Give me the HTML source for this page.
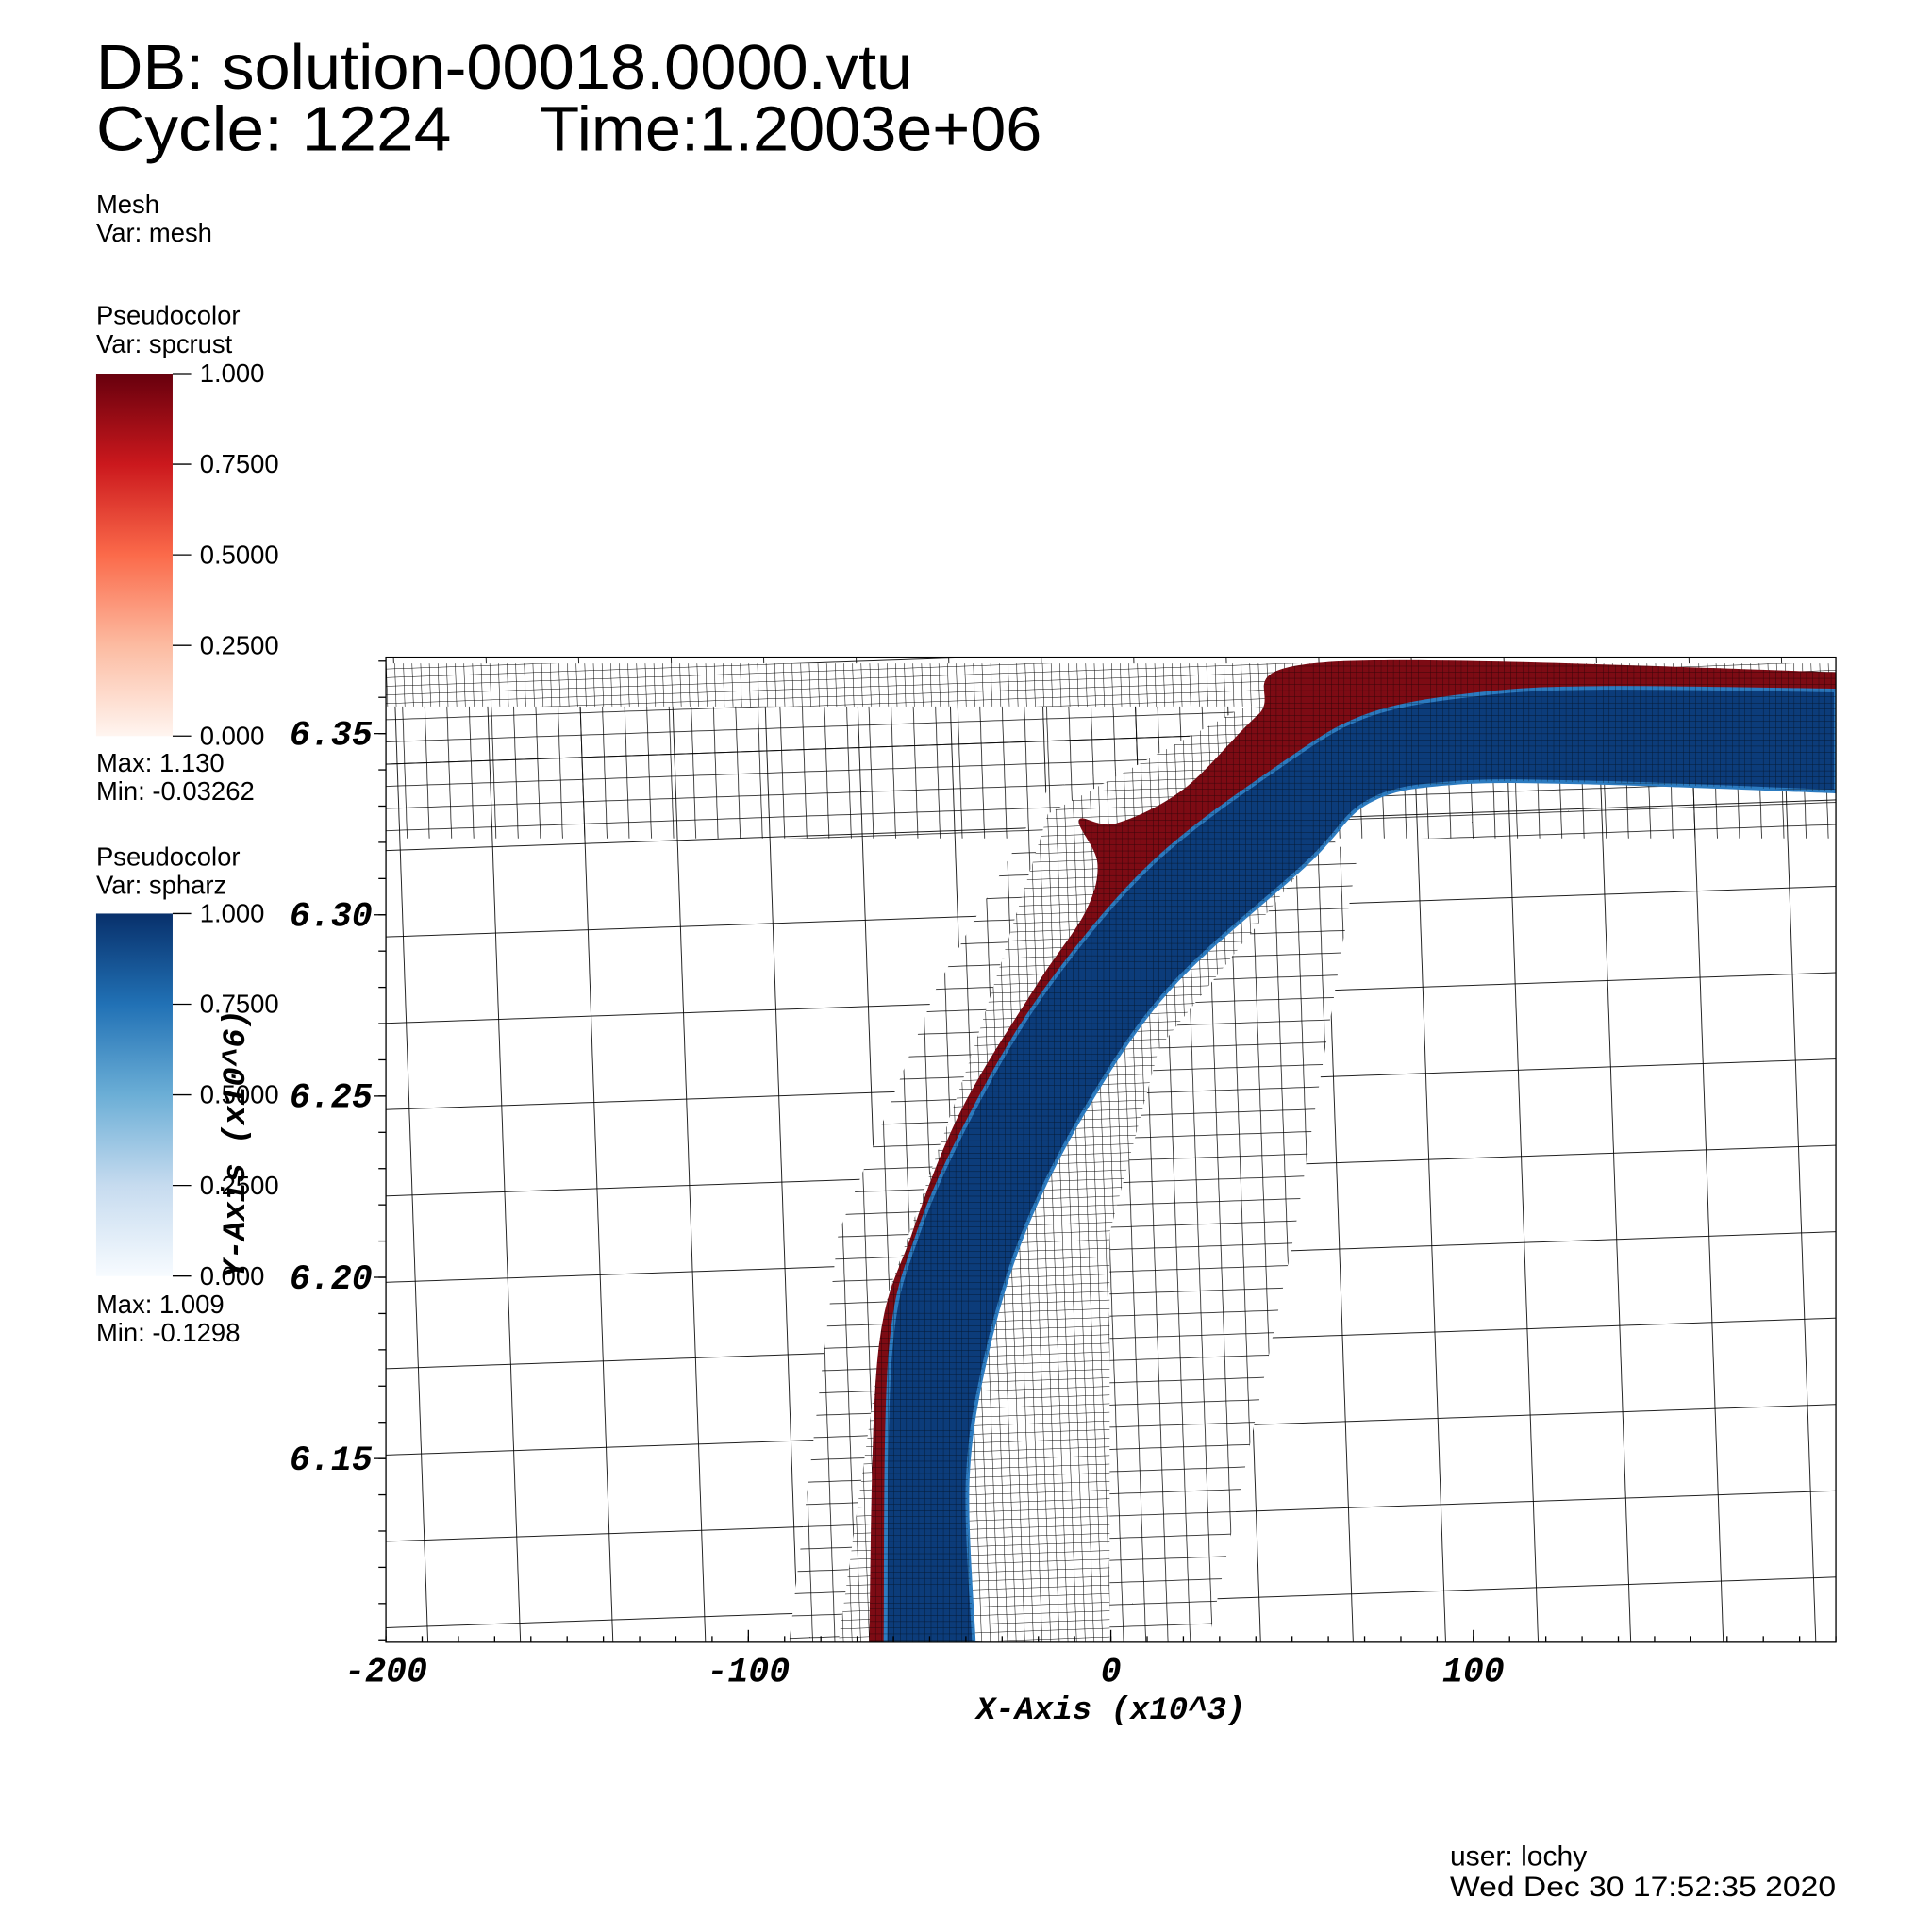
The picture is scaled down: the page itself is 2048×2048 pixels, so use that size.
<!DOCTYPE html>
<html><head><meta charset="utf-8"><style>
html,body{margin:0;padding:0;background:#fff;}
svg{display:block;}
.t{font-family:"Liberation Sans",sans-serif;fill:#000;}
.m{font-family:"Liberation Mono",monospace;font-weight:bold;font-style:italic;fill:#000;}
</style></head><body>
<svg id="chart" width="2048" height="2048" viewBox="0 0 1567 1567" xmlns="http://www.w3.org/2000/svg">
<defs>
<linearGradient id="gR" x1="0" y1="1" x2="0" y2="0">
<stop offset="0" stop-color="#fff5f0"/><stop offset="0.25" stop-color="#fcbba1"/><stop offset="0.5" stop-color="#fb6a4a"/><stop offset="0.75" stop-color="#cb181d"/><stop offset="1" stop-color="#67000d"/></linearGradient>
<linearGradient id="gB" x1="0" y1="1" x2="0" y2="0">
<stop offset="0" stop-color="#f7fbff"/><stop offset="0.25" stop-color="#c6dbef"/><stop offset="0.5" stop-color="#6baed6"/><stop offset="0.75" stop-color="#2171b5"/><stop offset="1" stop-color="#08306b"/></linearGradient>
<pattern id="pCoarse" width="75" height="70" patternUnits="userSpaceOnUse" patternTransform="rotate(-2)"><path d="M0 0H75M0 0V70" stroke="#000" stroke-width="1.3" fill="none"/></pattern>
<pattern id="pMed" width="18" height="18" patternUnits="userSpaceOnUse" patternTransform="rotate(-2)"><path d="M0 0H18M0 0V18" stroke="#000" stroke-width="1.1" fill="none"/></pattern>
<pattern id="pFine" width="7" height="7" patternUnits="userSpaceOnUse" patternTransform="rotate(-2)"><path d="M0 0H7M0 0V7" stroke="#000" stroke-width="0.8" fill="none"/></pattern>
<pattern id="pBand" width="5" height="5" patternUnits="userSpaceOnUse"><path d="M0 0H5M0 0V5" stroke="#000" stroke-width="0.7" fill="none" opacity="0.6"/></pattern>
<clipPath id="clip"><rect x="313" y="533" width="1176" height="799"/></clipPath>
</defs>

<text class="t" x="78" y="72" font-size="51" textLength="662" lengthAdjust="spacingAndGlyphs">DB: solution-00018.0000.vtu</text>
<text class="t" x="78" y="122" font-size="51" textLength="288" lengthAdjust="spacingAndGlyphs">Cycle: 1224</text>
<text class="t" x="438" y="122" font-size="51" textLength="407" lengthAdjust="spacingAndGlyphs">Time:1.2003e+06</text>
<text class="t" x="78" y="173" font-size="21">Mesh</text>
<text class="t" x="78" y="196" font-size="21">Var: mesh</text>

<g>
<text class="t" x="78" y="263" font-size="21">Pseudocolor</text>
<text class="t" x="78" y="286" font-size="21">Var: spcrust</text>
<rect x="78" y="303" width="62" height="294" fill="url(#gR)"/>
<g id="redTicks"></g>
<text class="t" x="78" y="626" font-size="21">Max:  1.130</text>
<text class="t" x="78" y="649" font-size="21">Min: -0.03262</text>
</g>
<g>
<text class="t" x="78" y="702" font-size="21">Pseudocolor</text>
<text class="t" x="78" y="725" font-size="21">Var: spharz</text>
<rect x="78" y="741" width="62" height="294" fill="url(#gB)"/>
<g id="blueTicks"></g>
<text class="t" x="78" y="1065" font-size="21">Max:  1.009</text>
<text class="t" x="78" y="1088" font-size="21">Min: -0.1298</text>
</g>

<g clip-path="url(#clip)">
<rect x="313" y="533" width="1176" height="799" fill="#fff"/>
<rect x="313" y="533" width="1176" height="799" fill="url(#pCoarse)"/>
<rect x="313" y="570" width="1176" height="110" fill="url(#pMed)"/>
<polygon points="640,1332 680,1000 760,800 850,640 1000,600 1100,700 1050,1000 980,1332" fill="#fff"/>
<polygon points="640,1332 680,1000 760,800 850,640 1000,600 1100,700 1050,1000 980,1332" fill="url(#pMed)"/>
<polygon points="680,1332 720,1050 790,850 850,660 1070,540 1100,650 940,850 900,1000 900,1332" fill="#fff"/>
<polygon points="680,1332 720,1050 790,850 850,660 1070,540 1100,650 940,850 900,1000 900,1332" fill="url(#pFine)"/>
<rect x="313" y="538" width="1176" height="35" fill="#fff"/>
<rect x="313" y="538" width="1176" height="35" fill="url(#pFine)"/>
<g id="marks"></g>
</g>
<rect x="313" y="533" width="1176" height="799" fill="none" stroke="#000" stroke-width="1"/>
<g id="axes"></g>
<text class="m" x="901" y="1394" font-size="26" text-anchor="middle">X-Axis (x10^3)</text>
<text class="m" x="0" y="0" font-size="26" text-anchor="middle" transform="translate(198,928) rotate(-90)">Y-Axis (x10^6)</text>
<text class="t" x="1176" y="1513" font-size="23">user: lochy</text>
<text class="t" x="1176" y="1538" font-size="23" textLength="313" lengthAdjust="spacingAndGlyphs">Wed Dec 30 17:52:35 2020</text>
</svg>
<script>
const xTicks=[-200,-100,0,100];
const xTickLabels=["-200","-100","0","100"];
const yTicks=[6.35,6.30,6.25,6.20,6.15];
const yTickLabels=["6.35","6.30","6.25","6.20","6.15"];
const legendTickLabels=["1.000","0.7500","0.5000","0.2500","0.000"];
const blueInnerX=[-62.2,-60.9,-53.1,-37.8,-17.3,11.6,47.3,71.1,101.7,135.7,200];
const blueInnerY=[6.0993,6.1783,6.2123,6.2463,6.2803,6.3143,6.3415,6.3551,6.3609,6.3626,6.3619];
const blueOuterX=[-37.8,-39.5,-34.4,-24.1,-7.1,16.7,54.1,71.1,94.9,135.7,200];
const blueOuterY=[6.0993,6.1443,6.1783,6.2123,6.2463,6.2803,6.3143,6.3313,6.3364,6.3364,6.334];
const redOuterX=[-66.7,-64.3,-54.8,-41.2,-20.7,-7.1,-3.7,-8.8,1.4,20.1,40.5,59.2,200];
const redOuterY=[6.0993,6.1783,6.2123,6.2463,6.2803,6.3007,6.3143,6.3262,6.3252,6.3347,6.3551,6.3697,6.367];
const NS="http://www.w3.org/2000/svg";
const sx=v=>901+(v*294/100);
const sy=v=>595+(6.35-v)*147/0.05;
function el(tag,attrs,parent){const e=document.createElementNS(NS,tag);for(const k in attrs)e.setAttribute(k,attrs[k]);parent.appendChild(e);return e;}
function smooth(pts,start){let d=start?('M'+pts[0][0]+' '+pts[0][1]):('L'+pts[0][0]+' '+pts[0][1]);
 for(let i=0;i<pts.length-1;i++){const p0=pts[Math.max(i-1,0)],p1=pts[i],p2=pts[i+1],p3=pts[Math.min(i+2,pts.length-1)];
 d+=' C'+(p1[0]+(p2[0]-p0[0])/6)+' '+(p1[1]+(p2[1]-p0[1])/6)+' '+(p2[0]-(p3[0]-p1[0])/6)+' '+(p2[1]-(p3[1]-p1[1])/6)+' '+p2[0]+' '+p2[1];}
 return d;}
const marks=document.getElementById('marks');
const redOut=redOuterX.map((x,i)=>[sx(x),sy(redOuterY[i])]);
const bIn=blueInnerX.map((x,i)=>[sx(x),sy(blueInnerY[i])]);
const bOut=blueOuterX.map((x,i)=>[sx(x),sy(blueOuterY[i])]);
const redD=smooth(redOut,true)+' '+smooth(bIn.slice().reverse().map(p=>[p[0]+3,p[1]+2]),false)+' Z';
const red=el('path',{d:redD,fill:'#7d0b14'},marks);


const blueD=smooth(bIn,true)+' '+smooth(bOut.slice().reverse(),false)+' Z';
const blue=el('path',{d:blueD,fill:'#0c3c7a',stroke:'#2c7bc0','stroke-width':3},marks);


const ov=el('path',{d:redD+' '+blueD,fill:'url(#pBand)'},marks);


const axes=document.getElementById('axes');
xTicks.forEach((v,i)=>{
 const t=el('text',{x:sx(v),y:1364,'font-size':28,'text-anchor':'middle',class:'m'},axes);t.textContent=xTickLabels[i];
 
 
 el('line',{x1:sx(v),x2:sx(v),y1:1332,y2:1322,stroke:'#000'},axes);
});
for(let v=-200;v<=200;v+=10){el('line',{x1:sx(v),x2:sx(v),y1:1332,y2:1327,stroke:'#000'},axes);}
yTicks.forEach((v,i)=>{
 const t=el('text',{x:302,y:sy(v)+9,'font-size':28,'text-anchor':'end',class:'m'},axes);t.textContent=yTickLabels[i];
 
 
 el('line',{x1:313,x2:303,y1:sy(v),y2:sy(v),stroke:'#000'},axes);
});
for(let k=0;k<28;k++){const v=6.10+k*0.01;const y=sy(v);if(y>=533&&y<=1332)el('line',{x1:313,x2:307,y1:y,y2:y,stroke:'#000'},axes);}
function legendTicks(id,top){const g=document.getElementById(id);legendTickLabels.forEach((s,i)=>{const y=top+i*73.5;el('line',{x1:140,x2:155,y1:y,y2:y,stroke:'#000'},g);const t=el('text',{x:162,y:y+7,'font-size':21,class:'t'},g);t.textContent=s;

});}
legendTicks('redTicks',303);legendTicks('blueTicks',741);
</script>
</body></html>
